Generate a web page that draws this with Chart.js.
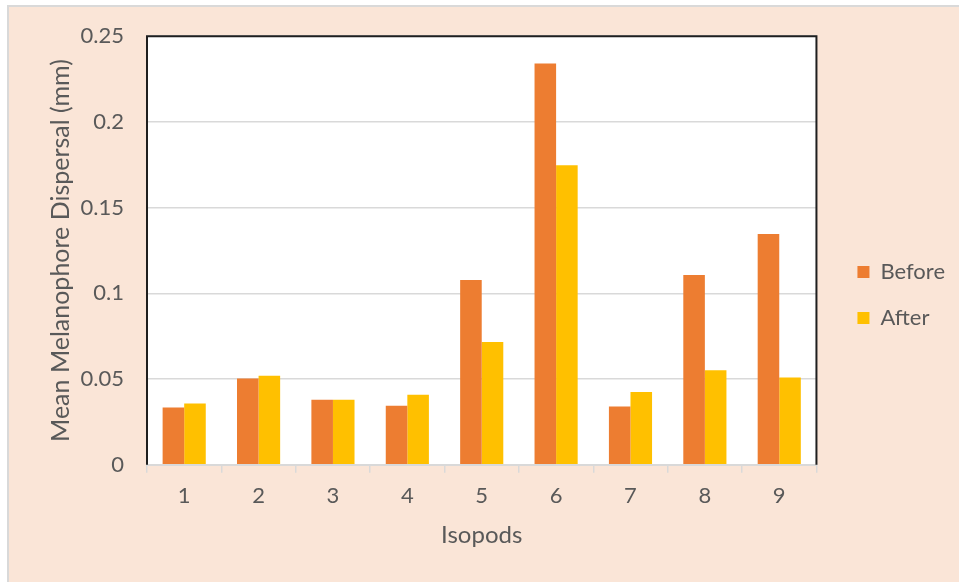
<!DOCTYPE html>
<html>
<head>
<meta charset="utf-8">
<script src="https://cdn.jsdelivr.net/npm/chart.js@4.4.1/dist/chart.umd.min.js"></script>
<style>
  html, body { margin: 0; padding: 0; background: #ffffff; }
  #wrap { width: 959px; height: 582px; position: relative; }
  canvas { display: block; }
</style>
</head>
<body>
<div id="wrap"><canvas id="chart" width="959" height="582"></canvas></div>
<script>
// Isopod numbers along the x axis
const isopods = ['1', '2', '3', '4', '5', '6', '7', '8', '9'];

// Mean melanophore dispersal (mm) for each isopod
const beforeValues = [0.0334, 0.0503, 0.0379, 0.0344, 0.1078, 0.2341, 0.0340, 0.1107, 0.1346];
const afterValues  = [0.0357, 0.0519, 0.0379, 0.0408, 0.0717, 0.1747, 0.0424, 0.0552, 0.0509];

// Value axis tick labels
const yTickLabels = ['0', '0.05', '0.1', '0.15', '0.2', '0.25'];

const TEXT = '#595959';
const FONT = 'Lato, "Open Sans", sans-serif';

// Peach panel behind everything, white plot area, dark frame around the plot
const framePlugin = {
  id: 'frame',
  beforeDraw(chart) {
    const { ctx, width, height, chartArea: a } = chart;
    ctx.save();
    ctx.fillStyle = '#ffffff';
    ctx.fillRect(0, 0, width, height);
    ctx.fillStyle = '#FAE5D7';
    ctx.fillRect(8, 7, width - 8, height - 7);
    ctx.strokeStyle = '#d9d9d9';
    ctx.lineWidth = 2;
    ctx.beginPath();
    ctx.moveTo(8, height);
    ctx.lineTo(8, 6);
    ctx.lineTo(width, 6);
    ctx.stroke();
    ctx.fillStyle = '#ffffff';
    ctx.fillRect(a.left, a.top, a.right - a.left, a.bottom - a.top);
    ctx.restore();
  },
  afterDraw(chart) {
    const { ctx, chartArea: a } = chart;
    ctx.save();
    ctx.strokeStyle = '#1f1f1f';
    ctx.lineWidth = 2;
    ctx.beginPath();
    ctx.moveTo(a.left, a.bottom);
    ctx.lineTo(a.left, a.top);
    ctx.lineTo(a.right, a.top);
    ctx.lineTo(a.right, a.bottom);
    ctx.stroke();
    ctx.restore();
  }
};

new Chart(document.getElementById('chart'), {
  type: 'bar',
  data: {
    labels: isopods,
    datasets: [
      { label: 'Before', data: beforeValues, backgroundColor: '#ED7D31', borderWidth: 0 },
      { label: 'After', data: afterValues, backgroundColor: '#FFC000', borderWidth: 0 }
    ]
  },
  options: {
    responsive: false,
    animation: false,
    devicePixelRatio: 1,
    layout: { padding: { left: 42, top: 36, right: 4, bottom: 28 } },
    datasets: { bar: { categoryPercentage: 0.58, barPercentage: 1 } },
    plugins: {
      tooltip: { enabled: false },
      legend: {
        position: 'right',
        labels: {
          boxWidth: 12,
          boxHeight: 12,
          padding: 24,
          color: TEXT,
          font: { family: FONT, size: 22 }
        }
      }
    },
    scales: {
      x: {
        grid: { drawOnChartArea: false, drawTicks: true, tickLength: 8, color: '#d9d9d9', lineWidth: 1.5 },
        border: { color: '#d9d9d9', width: 2 },
        ticks: { color: TEXT, font: { family: FONT, size: 22 }, padding: 10 },
        title: {
          display: true,
          text: 'Isopods',
          color: TEXT,
          font: { family: FONT, size: 24 },
          padding: { top: 2, bottom: 4 }
        }
      },
      y: {
        min: 0,
        max: 0.25,
        ticks: {
          stepSize: 0.05,
          color: TEXT,
          font: { family: FONT, size: 22 },
          padding: 23,
          callback: (value, index) => yTickLabels[index]
        },
        grid: { color: '#d9d9d9', lineWidth: 1.5, drawTicks: false },
        border: { display: false },
        title: {
          display: true,
          text: 'Mean Melanophore Dispersal (mm)',
          color: TEXT,
          font: { family: FONT, size: 25 },
          padding: { top: 4, bottom: 4 }
        },
        afterFit(scale) { scale.width = 105; }
      },
      legendGap: {
        position: 'right',
        type: 'linear',
        display: true,
        grid: { display: false },
        border: { display: false },
        ticks: { display: false },
        afterFit(scale) { scale.width = 17; }
      }
    }
  },
  plugins: [framePlugin]
});
</script>
</body>
</html>
